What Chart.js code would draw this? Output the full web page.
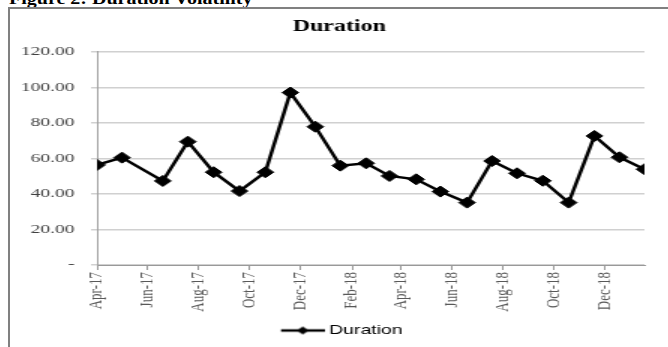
<!DOCTYPE html>
<html><head><meta charset="utf-8">
<script src="https://cdn.jsdelivr.net/npm/chart.js@4.4.1/dist/chart.umd.min.js"></script>
<style>
html,body{margin:0;padding:0;background:#fff;width:668px;height:347px;overflow:hidden;position:relative;}
#cap{position:absolute;left:9px;top:-9px;font:bold 16px 'Liberation Serif',serif;line-height:1;white-space:nowrap;transform:scaleX(1.25);transform-origin:0 0;color:#000;}
#frame{position:absolute;left:8px;top:7px;width:700px;height:400px;border-left:2px solid #808080;border-top:2px solid #808080;}
#wrap{position:absolute;left:10px;top:9px;width:439px;height:338px;transform:scaleX(1.5);transform-origin:0 0;}
</style></head><body>
<div id="cap">Figure 2: Duration Volatility</div>
<div id="frame"></div>
<div id="wrap"><canvas id="c" width="439" height="338" style="width:439px;height:338px"></canvas></div>
<script>
const chartTitle = 'Duration';
const seriesName = 'Duration';
const dates = ['2017-04-01','2017-05-01','2017-06-19','2017-07-19','2017-08-19','2017-09-19','2017-10-20','2017-11-19','2017-12-19','2018-01-18','2018-02-18','2018-03-18','2018-04-19','2018-05-18','2018-06-19','2018-07-19','2018-08-18','2018-09-18','2018-10-19','2018-11-19','2018-12-19','2019-01-18'];
const durationValues = [56.3, 60.4, 47.3, 69.4, 52.2, 41.6, 52.2, 97.0, 77.8, 55.9, 57.2, 50.1, 48.2, 41.3, 35.1, 58.5, 51.6, 47.4, 35.1, 72.6, 60.6, 53.9];
const xTickDates = ['2017-04-01','2017-06-01','2017-08-01','2017-10-01','2017-12-01','2018-02-01','2018-04-01','2018-06-01','2018-08-01','2018-10-01','2018-12-01'];
const xTickLabels = ['Apr-17','Jun-17','Aug-17','Oct-17','Dec-17','Feb-18','Apr-18','Jun-18','Aug-18','Oct-18','Dec-18'];
const yTickValues = [0, 20, 40, 60, 80, 100, 120];
const yTickLabels = ['-', '20.00', '40.00', '60.00', '80.00', '100.00', '120.00'];

const day = s => Date.UTC(+s.slice(0,4), +s.slice(5,7)-1, +s.slice(8,10)) / 86400000;

// legend symbol: line with a diamond (left part transparent to nudge it right)
const icon = document.createElement('canvas');
icon.width = 36; icon.height = 10;
const g = icon.getContext('2d');
g.strokeStyle = '#000'; g.lineWidth = 2.5;
g.beginPath(); g.moveTo(7,5); g.lineTo(36,5); g.stroke();
g.fillStyle = '#000';
g.beginPath(); g.moveTo(17.5,5); g.lineTo(21.5,1); g.lineTo(25.5,5); g.lineTo(21.5,9); g.closePath(); g.fill();

new Chart(document.getElementById('c'), {
  type: 'line',
  data: {
    datasets: [{
      label: seriesName,
      data: dates.map((d, i) => ({x: day(d), y: durationValues[i]})),
      borderColor: '#000',
      backgroundColor: '#000',
      borderWidth: 2.5,
      pointStyle: 'rectRot',
      pointRadius: 5.5,
      pointHoverRadius: 5.5,
      pointBorderWidth: 1,
      pointBackgroundColor: '#000',
      pointBorderColor: '#000',
      tension: 0,
      fill: false
    }]
  },
  options: {
    responsive: false,
    animation: false,
    devicePixelRatio: 1,
    layout: { padding: 0 },
    plugins: {
      title: {
        display: true, text: chartTitle, color: '#000',
        font: { family: 'Liberation Serif', size: 16, weight: 'bold' },
        padding: { top: 8, bottom: 15.5 }
      },
      legend: {
        display: true, position: 'bottom',
        labels: {
          usePointStyle: true, pointStyle: icon, pointStyleWidth: 29,
          color: '#000', padding: 10,
          font: { family: 'Liberation Sans', size: 13 }
        }
      },
      tooltip: { enabled: false }
    },
    scales: {
      x: {
        type: 'linear',
        min: day(dates[0]), max: day(dates[dates.length - 1]),
        afterBuildTicks: s => { s.ticks = xTickDates.map(d => ({ value: day(d) })); },
        afterFit: s => { s.height = 49; s.paddingRight = 16; },
        ticks: {
          autoSkip: false, minRotation: 90, maxRotation: 90, padding: 2,
          color: '#595959', font: { family: 'Liberation Serif', size: 13 },
          callback: (v, i) => xTickLabels[i]
        },
        grid: { drawOnChartArea: false, drawTicks: true, tickLength: 5, color: '#999999', lineWidth: 1 },
        border: { display: true, color: '#999999', width: 1 }
      },
      y: {
        min: 0, max: 120,
        afterBuildTicks: s => { s.ticks = yTickValues.map(v => ({ value: v })); },
        afterFit: s => { s.width = 58; },
        ticks: {
          padding: 11, color: '#404040',
          font: { family: 'Liberation Serif', size: 13 },
          callback: (v, i) => yTickLabels[i]
        },
        grid: { color: '#d0d0d0', lineWidth: 1.5, tickLength: 4, drawTicks: true },
        border: { display: true, color: '#a0a0a0', width: 1 }
      }
    }
  }
});
</script>
</body></html>
